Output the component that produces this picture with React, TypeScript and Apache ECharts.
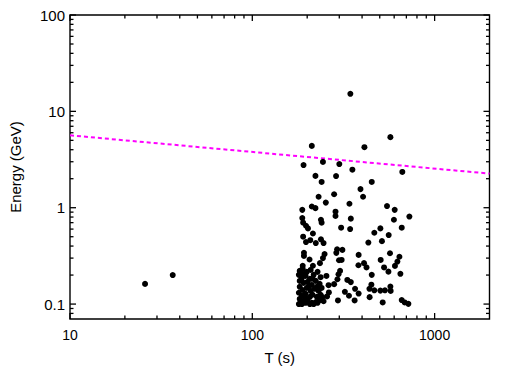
import React, { useEffect, useRef } from "react";
import * as echarts from "echarts";

// Axis ranges and tick values
const xRange = [10, 2000];
const yRange = [0.07, 100];
const xMajorTicks = [10, 100, 1000];
const xMinorTicks = [20, 30, 40, 50, 60, 70, 80, 90, 200, 300, 400, 500, 600, 700, 800, 900];
const yMajorTicks = [0.1, 1, 10, 100];
const yMinorTicks = [
  0.08, 0.09, 0.2, 0.3, 0.4, 0.5, 0.6, 0.7, 0.8, 0.9,
  2, 3, 4, 5, 6, 7, 8, 9, 20, 30, 40, 50, 60, 70, 80, 90,
];

// Magenta dashed threshold line (T, Energy)
const thresholdLine = [
  [10, 5.64],
  [2000, 2.26],
];

// Isolated early events
const earlyEvents = [
  [25.8, 0.162],
  [36.6, 0.2],
];

// Dense cluster just above 180 s
const clusterEvents = [
  [182, 0.221], [189, 0.232], [199, 0.216], [209, 0.226], [180, 0.201], [187, 0.187],
  [196, 0.196], [207, 0.183], [217, 0.201], [228, 0.216], [237, 0.19], [182, 0.174],
  [191, 0.166], [201, 0.17], [212, 0.158], [223, 0.174], [234, 0.162], [182, 0.151],
  [189, 0.14], [199, 0.147], [209, 0.137], [220, 0.144], [231, 0.137], [240, 0.147],
  [180, 0.131], [187, 0.122], [196, 0.128], [207, 0.119], [214, 0.125], [226, 0.119],
  [237, 0.125], [182, 0.113], [191, 0.108], [201, 0.11], [212, 0.103], [223, 0.105],
  [234, 0.11], [180, 0.1], [187, 0.1], [196, 0.103], [207, 0.1], [217, 0.1],
  [228, 0.103], [184, 0.105], [194, 0.119], [204, 0.154], [214, 0.183], [226, 0.151],
  [189, 0.206],
];

// Remaining events
const otherEvents = [
  [345, 15.2], [572, 5.4], [212, 4.38], [412, 4.25], [191, 2.77], [244, 2.99],
  [300, 2.84], [354, 2.48], [665, 2.35], [222, 2.14], [288, 2.13], [240, 1.85],
  [452, 1.85], [392, 1.56], [405, 1.3], [281, 1.38], [231, 1.3], [253, 1.13],
  [341, 1.1], [188, 0.95], [212, 1.03], [222, 0.99], [286, 0.91], [286, 0.82],
  [548, 1.04], [604, 0.95], [727, 0.81], [188, 0.78], [190, 0.7], [197, 0.65],
  [202, 0.61], [238, 0.75], [240, 0.7], [347, 0.77], [598, 0.75], [307, 0.62],
  [344, 0.6], [504, 0.61], [660, 0.62], [215, 0.54], [467, 0.55], [560, 0.52],
  [190, 0.5], [197, 0.44], [208, 0.46], [223, 0.43], [238, 0.47], [246, 0.43],
  [514, 0.45], [433, 0.435], [192, 0.34], [192, 0.316], [206, 0.29], [189, 0.25],
  [215, 0.25], [249, 0.33], [244, 0.3], [235, 0.266], [292, 0.37], [312, 0.365],
  [289, 0.34], [299, 0.285], [309, 0.287], [383, 0.324], [382, 0.253], [410, 0.266],
  [423, 0.24], [506, 0.287], [569, 0.337], [641, 0.31], [625, 0.276], [528, 0.24],
  [606, 0.249], [558, 0.217], [303, 0.221], [297, 0.204], [255, 0.196], [452, 0.201],
  [649, 0.206], [293, 0.181], [332, 0.178], [347, 0.169], [281, 0.161], [262, 0.157],
  [450, 0.159], [439, 0.144], [467, 0.139], [504, 0.138], [534, 0.139], [572, 0.152],
  [574, 0.137], [322, 0.134], [339, 0.122], [383, 0.1285], [366, 0.144], [263, 0.132],
  [257, 0.12], [440, 0.118], [295, 0.109], [364, 0.109], [519, 0.104], [660, 0.11],
  [685, 0.104], [718, 0.1005], [242, 0.118], [246, 0.107],
];

const FONT = "Liberation Sans";
const MAJOR_LEN = 6;
const MINOR_LEN = 3.5;
const TICK_W = 1.3;

const fmt = (v: number) => `${+Number(v).toPrecision(6)}`;

// Tick marks drawn as thin rect symbols placed on the frame edges (inward pointing).
function xTickItems(values: number[], len: number) {
  const items: any[] = [];
  values.forEach((v) => {
    items.push({ value: [v, yRange[0]], symbolSize: [TICK_W, len], symbolOffset: [0, -len / 2] });
    items.push({ value: [v, yRange[1]], symbolSize: [TICK_W, len], symbolOffset: [0, len / 2] });
  });
  return items;
}
function yTickItems(values: number[], len: number) {
  const items: any[] = [];
  values.forEach((v) => {
    items.push({ value: [xRange[0], v], symbolSize: [len, TICK_W], symbolOffset: [len / 2, 0] });
    items.push({ value: [xRange[1], v], symbolSize: [len, TICK_W], symbolOffset: [-len / 2, 0] });
  });
  return items;
}

export default function App() {
  const ref = useRef<HTMLDivElement>(null);

  useEffect(() => {
    if (!ref.current) return;
    const chart = echarts.init(ref.current, undefined, { renderer: "svg" });
    const tickData = [
      ...xTickItems(xMajorTicks, MAJOR_LEN),
      ...xTickItems(xMinorTicks, MINOR_LEN),
      ...yTickItems(yMajorTicks, MAJOR_LEN),
      ...yTickItems(yMinorTicks, MINOR_LEN),
    ];
    chart.setOption({
      animation: false,
      backgroundColor: "#fff",
      grid: {
        left: 70,
        top: 15,
        right: 25.5,
        bottom: 49,
        containLabel: false,
        outerBoundsMode: "none",
        show: true,
        borderColor: "#000",
        borderWidth: 1.4,
        backgroundColor: "transparent",
      },
      xAxis: {
        type: "log",
        logBase: 10,
        min: xRange[0],
        max: xRange[1],
        name: "T (s)",
        nameLocation: "middle",
        nameGap: 31,
        nameTextStyle: { color: "#000", fontFamily: FONT, fontSize: 15 },
        axisLine: { show: false },
        splitLine: { show: false },
        minorTick: { show: false },
        axisTick: { show: false },
        axisLabel: {
          customValues: xMajorTicks,
          formatter: fmt,
          margin: 9,
          color: "#000",
          fontFamily: FONT,
          fontSize: 14,
        },
      },
      yAxis: {
        type: "log",
        logBase: 10,
        min: yRange[0],
        max: yRange[1],
        name: "Energy (GeV)",
        nameLocation: "middle",
        nameGap: 47,
        nameTextStyle: { color: "#000", fontFamily: FONT, fontSize: 15 },
        axisLine: { show: false },
        splitLine: { show: false },
        minorTick: { show: false },
        axisTick: { show: false },
        axisLabel: {
          customValues: yMajorTicks,
          formatter: fmt,
          margin: 5,
          color: "#000",
          fontFamily: FONT,
          fontSize: 15,
        },
      },
      series: [
        {
          type: "scatter",
          name: "ticks",
          data: tickData,
          symbol: "rect",
          itemStyle: { color: "#000", opacity: 1 },
          clip: false,
          silent: true,
          z: 5,
        },
        {
          type: "line",
          data: thresholdLine,
          showSymbol: false,
          symbol: "none",
          lineStyle: { color: "#ff00ff", width: 2, type: [4, 3], opacity: 1 },
          silent: true,
          z: 3,
        },
        {
          type: "scatter",
          data: [...earlyEvents, ...clusterEvents, ...otherEvents],
          symbol: "circle",
          symbolSize: 6,
          itemStyle: { color: "#000", opacity: 1 },
          silent: true,
          z: 4,
        },
      ],
    });
    return () => chart.dispose();
  }, []);

  return (
    <div
      ref={ref}
      style={{ position: "fixed", left: 0, top: 0, width: 515, height: 368, background: "#fff" }}
    />
  );
}
